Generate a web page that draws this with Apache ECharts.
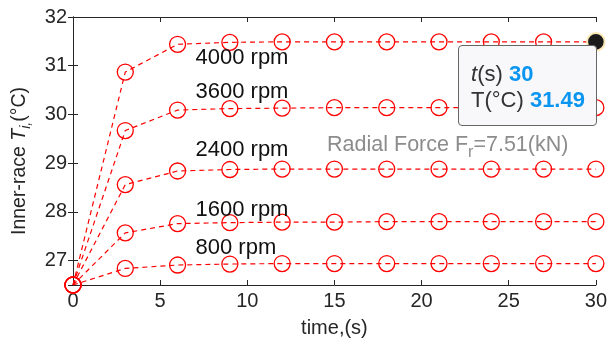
<!DOCTYPE html>
<html>
<head>
<meta charset="utf-8">
<script src="https://cdn.jsdelivr.net/npm/echarts@6/dist/echarts.min.js"></script>
<style>
  html, body { margin: 0; padding: 0; background: #fff; }
  #chart { width: 610px; height: 346px; }
</style>
</head>
<body>
<div id="chart"></div>
<script>
// ============================================================
// 数据
// ============================================================
var TIMES = [0, 3, 6, 9, 12, 15, 18, 21, 24, 27, 30];
var RPM_4000 = [26.5, 30.87, 31.44, 31.48, 31.49, 31.49, 31.49, 31.49, 31.49, 31.49, 31.49];
var RPM_3600 = [26.5, 29.67, 30.09, 30.12, 30.13, 30.14, 30.14, 30.14, 30.14, 30.14, 30.14];
var RPM_2400 = [26.5, 28.56, 28.84, 28.87, 28.88, 28.88, 28.88, 28.88, 28.88, 28.88, 28.88];
var RPM_1600 = [26.5, 27.57, 27.76, 27.78, 27.79, 27.79, 27.80, 27.80, 27.80, 27.80, 27.80];
var RPM_800 = [26.5, 26.84, 26.91, 26.93, 26.94, 26.94, 26.94, 26.94, 26.94, 26.94, 26.94];
var SERIES_NAMES = ['4000 rpm', '3600 rpm', '2400 rpm', '1600 rpm', '800 rpm'];
var SERIES_VALUES = [RPM_4000, RPM_3600, RPM_2400, RPM_1600, RPM_800];
var FORCE_NOTE = 'Radial Force F';
var FORCE_SUB = 'r';
var FORCE_VALUE = '=7.51(kN)';

var FONT = '"Liberation Sans", Arial, sans-serif';
var AXIS_COLOR = '#262626';
var RED = '#ff0000';

// 标注锚点（数据坐标）
var LABEL_ANCHORS = [[7, 31.16], [7, 30.46], [7, 29.27], [7, 28.04], [7, 27.26]];
var NOTE_ANCHOR = [14.55, 29.37];

function pairs(values) {
  return TIMES.map(function(t, i) { return [t, values[i]]; });
}

var chart = echarts.init(document.getElementById('chart'));

var seriesList = SERIES_VALUES.map(function(values, idx) {
  var s = {
    name: SERIES_NAMES[idx],
    type: 'line',
    data: pairs(values),
    symbol: 'circle',
    symbolSize: 16,
    lineStyle: { color: RED, width: 1.2, type: [5, 4] },
    itemStyle: { color: 'rgba(0,0,0,0)', borderColor: RED, borderWidth: 1.3 },
    emphasis: idx === 0
      ? { scale: 1.1, itemStyle: { color: '#1a1a1a', borderColor: '#fbe8b4', borderWidth: 2 } }
      : { disabled: true },
    animation: false,
    z: 3,
    markPoint: {
      silent: true,
      symbol: 'circle',
      symbolSize: 1,
      itemStyle: { color: 'rgba(0,0,0,0)' },
      label: {
        show: true,
        position: 'right',
        distance: 0,
        color: '#111',
        fontSize: 22,
        fontFamily: FONT,
        formatter: SERIES_NAMES[idx]
      },
      data: [{ coord: LABEL_ANCHORS[idx] }]
    }
  };
  if (idx === 0) {
    s.markPoint.data.push({
      coord: NOTE_ANCHOR,
      label: {
        formatter: '{a|' + FORCE_NOTE + '}{s|' + FORCE_SUB + '}{a|' + FORCE_VALUE + '}',
        rich: {
          a: { color: '#8c8c8c', fontSize: 21.5, fontFamily: FONT },
          s: { color: '#8c8c8c', fontSize: 16, fontFamily: FONT, padding: [15, 0, 0, 0] }
        }
      }
    });
  }
  return s;
});

chart.setOption({
  animation: false,
  textStyle: { fontFamily: FONT },
  grid: { left: 73, right: 12, top: 17, bottom: 61 },
  tooltip: {
    trigger: 'item',
    triggerOn: 'none',
    alwaysShowContent: true,
    transitionDuration: 0,
    backgroundColor: '#f8f8fb',
    borderColor: '#666',
    borderWidth: 1,
    padding: [15, 11, 12, 12],
    extraCssText: 'box-shadow:none;border-radius:4px;line-height:26px;',
    textStyle: { fontSize: 22, color: '#333', fontFamily: FONT },
    position: function(pt, params, dom, rect, size) {
      return [pt[0] - size.contentSize[0] + 1, pt[1] + 3];
    },
    formatter: function(p) {
      var v = 'color:#0a96f0;font-weight:bold;';
      return '<i>t</i>(s) <span style="' + v + '">' + p.value[0] + '</span><br>' +
        'T(°C) <span style="' + v + '">' + p.value[1].toFixed(2) + '</span>';
    }
  },
  xAxis: [{
    type: 'value',
    min: 0,
    max: 30,
    interval: 5,
    name: 'time,(s)',
    nameLocation: 'middle',
    nameGap: 33,
    nameTextStyle: { fontSize: 20, color: AXIS_COLOR, fontFamily: FONT },
    axisLine: { show: true, lineStyle: { color: AXIS_COLOR, width: 1 } },
    axisTick: { show: true, inside: true, length: 5, lineStyle: { color: AXIS_COLOR } },
    axisLabel: { fontSize: 20, color: AXIS_COLOR, margin: 6 },
    splitLine: { show: false }
  }, {
    type: 'value',
    position: 'top',
    min: 0,
    max: 30,
    interval: 5,
    axisLine: { show: true, lineStyle: { color: AXIS_COLOR, width: 1 } },
    axisTick: { show: true, inside: true, length: 5, lineStyle: { color: AXIS_COLOR } },
    axisLabel: { show: false },
    splitLine: { show: false }
  }],
  yAxis: [{
    type: 'value',
    min: 26.5,
    max: 32,
    minInterval: 1,
    maxInterval: 1,
    name: '{n|Inner-race }{i|T}{s|i,}{n|(°C)}',
    nameLocation: 'middle',
    nameGap: 40,
    nameTextStyle: {
      padding: [0, 20, 0, 0],
      rich: {
        n: { fontSize: 19.5, color: AXIS_COLOR, fontFamily: FONT },
        i: { fontSize: 19.5, color: AXIS_COLOR, fontFamily: FONT, fontStyle: 'italic' },
        s: { fontSize: 14, color: AXIS_COLOR, fontFamily: FONT, fontStyle: 'italic', padding: [12, 0, 0, 0] }
      }
    },
    axisLine: { show: true, lineStyle: { color: AXIS_COLOR, width: 1 } },
    axisTick: { show: true, inside: true, length: 5, lineStyle: { color: AXIS_COLOR } },
    axisLabel: { fontSize: 20, color: AXIS_COLOR, margin: 6, showMinLabel: false },
    splitLine: { show: false }
  }, {
    type: 'value',
    position: 'right',
    min: 26.5,
    max: 32,
    minInterval: 1,
    maxInterval: 1,
    axisLine: { show: true, lineStyle: { color: AXIS_COLOR, width: 1 } },
    axisTick: { show: true, inside: true, length: 5, lineStyle: { color: AXIS_COLOR } },
    axisLabel: { show: false },
    splitLine: { show: false }
  }],
  series: seriesList
});

chart.dispatchAction({ type: 'highlight', seriesIndex: 0, dataIndex: 10 });
chart.dispatchAction({ type: 'showTip', seriesIndex: 0, dataIndex: 10 });
</script>
</body>
</html>
